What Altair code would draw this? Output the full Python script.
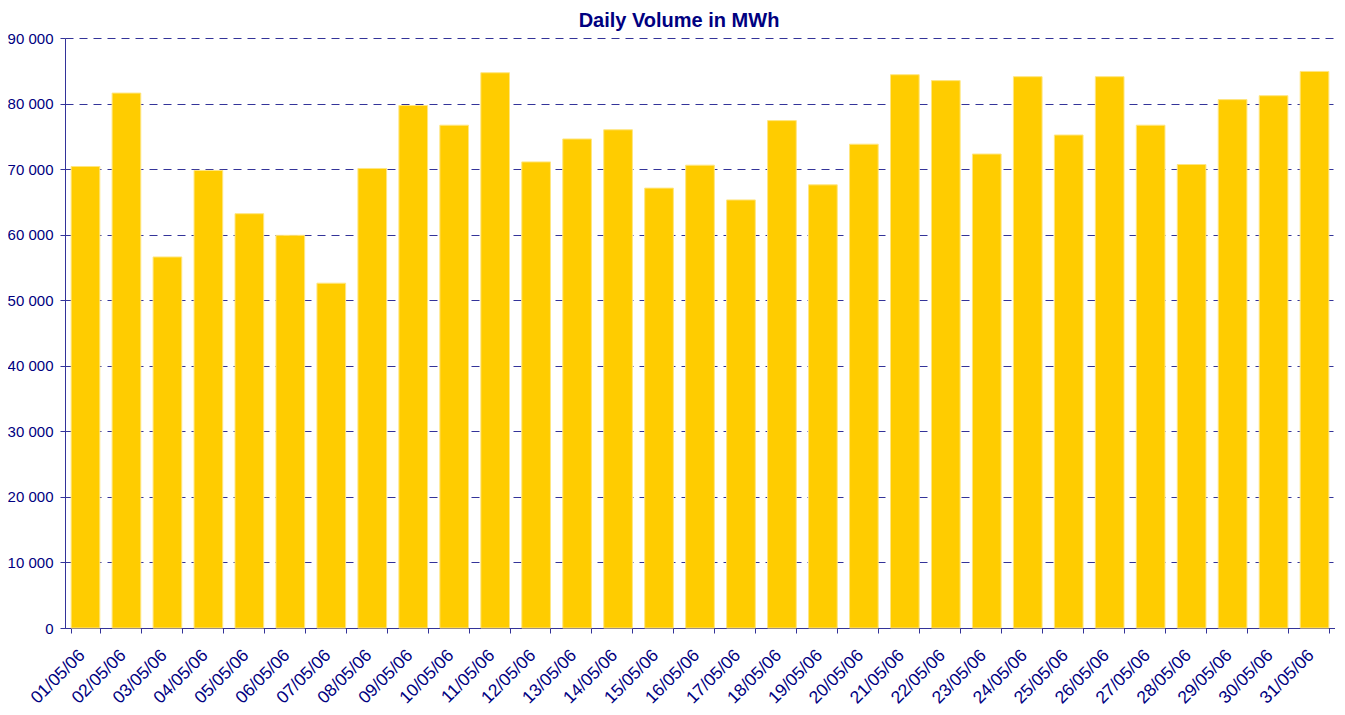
import altair as alt
import pandas as pd

dates = [f"{d:02d}/05/06" for d in range(1, 32)]
volumes = [70400, 81600, 56600, 69800, 63200, 59900, 52600, 70100, 79700, 76700,
           84700, 71100, 74600, 76000, 67100, 70600, 65300, 77400, 67600, 73800,
           84400, 83500, 72300, 84100, 75200, 84100, 76700, 70700, 80600, 81200,
           84900]

df = pd.DataFrame({"date": dates, "volume": volumes})

NAVY = "#000080"
AXIS = "#333399"

chart = alt.Chart(df).mark_bar(
    color="#FFCC00", stroke="#FFE680", strokeWidth=1
).encode(
    x=alt.X("date:N", sort=dates, title=None,
            scale=alt.Scale(paddingInner=0.3, paddingOuter=0.15),
            axis=alt.Axis(labelAngle=-45, labelFontSize=17.5, labelColor=NAVY,
                          labelFont="Liberation Sans", tickBand="extent",
                          tickColor=AXIS, tickSize=5, domainColor=AXIS,
                          labelPadding=13, labelOffset=-10, grid=False)),
    y=alt.Y("volume:Q", title=None,
            scale=alt.Scale(domain=[0, 90000], nice=False),
            axis=alt.Axis(values=list(range(0, 90001, 10000)),
                          labelExpr="replace(format(datum.value, ','), ',', ' ')",
                          labelFontSize=15, labelColor=NAVY,
                          labelFont="Liberation Sans", tickColor=AXIS, tickSize=5,
                          domainColor=AXIS, labelPadding=7,
                          grid=True, gridColor=AXIS, gridDash=[8, 6],
                          gridWidth=1)),
).properties(
    width=1270, height=590,
    title=alt.TitleParams("Daily Volume in MWh", font="Liberation Sans",
                          fontSize=20, fontWeight="bold", color=NAVY,
                          anchor="middle", offset=0, dx=-21),
    autosize=alt.AutoSizeParams(type="none"),
    padding={"left": 57, "top": 30, "right": 0, "bottom": 79},
).configure_view(stroke=None)

chart.save("out.html", embed_options={"renderer": "svg", "actions": False})
